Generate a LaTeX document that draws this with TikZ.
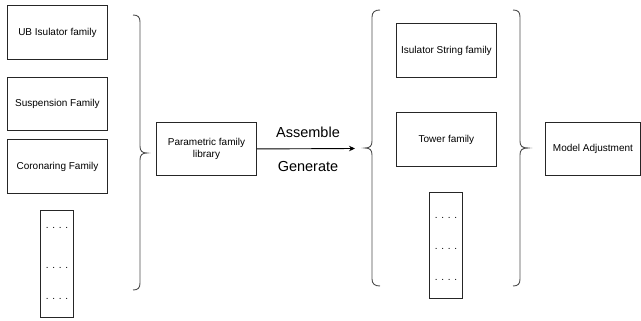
\documentclass[tikz,border=0pt]{standalone}
\usepackage{fontspec}
\setmainfont{Liberation Sans}
\usetikzlibrary{arrows.meta}
\begin{document}
\begin{tikzpicture}[x=1pt,y=-1pt,
  box/.style={draw=black!85, line width=0.9pt, inner sep=1pt, anchor=north west,
    align=center, font=\fontsize{10}{12}\selectfont},
  dotrow/.style={inner sep=0pt, font=\fontsize{10}{12}\selectfont},
  bracket/.style={draw=black!70, line width=0.9pt},
  label/.style={inner sep=0pt, font=\fontsize{14.5}{17}\selectfont}]
\useasboundingbox (0,0) rectangle (641,321);

% source families
\node[box, minimum width=100pt, minimum height=54pt] (ub) at (7,5) {UB Isulator family};
\node[box, minimum width=100pt, minimum height=53pt] (susp) at (7,77) {Suspension Family};
\node[box, minimum width=100pt, minimum height=54pt] (coro) at (7,139) {Coronaring Family};
\node[box, minimum width=33pt, minimum height=107pt] (more1) at (40,210) {};
\node[dotrow] (d1a) at (57,228) {. . . .};
\node[dotrow] (d1b) at (57,268) {. . . .};
\node[dotrow] (d1c) at (57,299) {. . . .};

% closing brace around the source families
\draw[bracket] (133,15) .. controls (138,15) and (140,17) .. (140,22) -- (140,146)
  .. controls (140,151) and (142,153) .. (147,153)
  .. controls (142,153) and (140,155) .. (140,160) -- (140,283)
  .. controls (140,288) and (138,290) .. (133,290);

% library and the assemble / generate step
\node[box, minimum width=100pt, minimum height=53pt] (lib) at (156,122) {Parametric family\\library};
\coordinate (tip) at (355,148.5);
\draw[line width=0.9pt, -{Stealth[length=6pt,width=5.5pt]}] (lib.east) -- (tip);
\node[label] (asm) at (308,132) {Assemble};
\node[label] (gen) at (308,167) {Generate};

% opening brace of the generated families
\draw[bracket] (380,10) .. controls (375,10) and (372,12) .. (372,17) -- (372,141)
  .. controls (372,146) and (370,148) .. (365,148)
  .. controls (370,148) and (372,150) .. (372,155) -- (372,279)
  .. controls (372,284) and (375,286) .. (380,286);

% generated families
\node[box, minimum width=100pt, minimum height=54pt] (str) at (396,23) {Isulator String family};
\node[box, minimum width=100pt, minimum height=54pt] (tow) at (396,112) {Tower family};
\node[box, minimum width=33pt, minimum height=106pt] (more2) at (429,192) {};
\node[dotrow] (d2a) at (446,218) {. . . .};
\node[dotrow] (d2b) at (446,249) {. . . .};
\node[dotrow] (d2c) at (446,280) {. . . .};

% closing brace of the generated families
\draw[bracket] (513,10) .. controls (518,10) and (520,12) .. (520,17) -- (520,141)
  .. controls (520,146) and (522,148) .. (528,148)
  .. controls (522,148) and (520,150) .. (520,155) -- (520,279)
  .. controls (520,284) and (518,286) .. (513,286);

% final step
\node[box, minimum width=95pt, minimum height=53pt] (adj) at (545,122) {Model Adjustment};
\end{tikzpicture}
\end{document}
